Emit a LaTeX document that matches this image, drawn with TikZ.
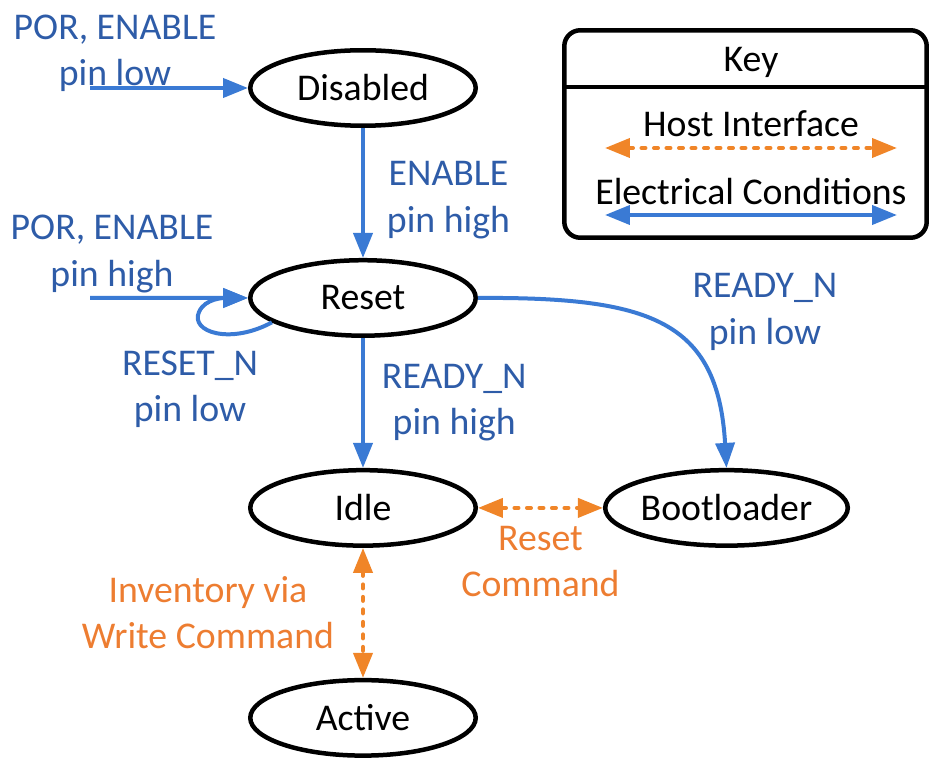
\documentclass[tikz,border=0pt]{standalone}
\usepackage{fontspec}
\setmainfont{Carlito}
\usetikzlibrary{shapes.geometric, arrows.meta, positioning}
\definecolor{condblue}{RGB}{58,122,212}
\definecolor{condtext}{RGB}{46,92,168}
\definecolor{hostorange}{RGB}{240,133,40}
\definecolor{hosttext}{RGB}{237,125,49}

\begin{document}
\begin{tikzpicture}[
  x=0.02cm, y=-0.02cm,
  node distance=2.6cm,
  state/.style={ellipse, draw, line width=0.09cm, minimum width=4.51cm, minimum height=1.51cm, inner sep=0pt, font=\fontsize{21.5}{26.4}\selectfont},
  lbl/.style={align=center, inner sep=0pt, font=\fontsize{21.5}{26.4}\selectfont},
  elec/.style={-{Triangle[length=0.5cm, width=0.38cm]}, condblue, line width=0.08cm},
  host/.style={{Triangle[length=0.5cm, width=0.38cm]}-{Triangle[length=0.5cm, width=0.38cm]}, hostorange, line width=0.08cm, dash pattern=on 0.08cm off 0.17cm, line cap=round},
  keybox/.style={rectangle, rounded corners=0.32cm, draw, line width=0.09cm, minimum width=7.25cm, minimum height=4.15cm},
]
  \useasboundingbox (0,0) rectangle (931,773);

  % states
  \node[state] (disabled) at (363,88) {Disabled};
  \node[state, below=of disabled] (reset) {Reset};
  \node[state, below=of reset] (idle) {Idle};
  \node[state, below=of idle] (active) {Active};
  \node[state, right=2.5cm of idle] (boot) {Bootloader};

  % electrical conditions
  \coordinate (porlowin) at (90,88);
  \coordinate (porhighin) at (90,298);
  \draw[elec] (porlowin) -- (disabled);
  \node[lbl, condtext] (porlow) at (115,53) {POR, ENABLE\\pin low};
  \draw[elec] (disabled) -- (reset) node[lbl, condtext, midway, right=0.44cm, yshift=-0.14cm] (enhigh) {ENABLE\\pin high};
  \draw[elec] (porhighin) -- (reset);
  \node[lbl, condtext] (porhigh) at (112,254) {POR, ENABLE\\pin high};
  \draw[elec] (reset.195) .. controls (230,345) and (190,332) .. (199,312) .. controls (205,298) and (225,298) .. (reset.west);
  \node[lbl, condtext] (rstlow) at (190,389) {RESET\_N\\pin low};
  \draw[elec] (reset) -- (idle) node[lbl, condtext, midway, right=0.34cm] (rdyhigh) {READY\_N\\pin high};
  \draw[elec] (reset.east) .. controls (650,297) and (718,320) .. (boot.north);
  \node[lbl, condtext] (rdylow) at (765,312) {READY\_N\\pin low};

  % host interface
  \draw[host] (idle) -- (boot) node[lbl, hosttext, midway, below=0.32cm] (rstcmd) {Reset\\Command};
  \draw[host] (idle) -- (active) node[lbl, hosttext, midway, left=0.54cm] (invcmd) {Inventory via\\Write Command};

  % key
  \node[keybox] (key) at (745.5,134) {};
  \draw[line width=0.09cm] (key.west |- 0,87) -- (key.east |- 0,87);
  \node[lbl] (keytitle) at (751,62) {Key};
  \node[lbl] (hostkey) at (751,124) {Host Interface};
  \coordinate (hostl) at (605,148);
  \coordinate (hostr) at (897,148);
  \draw[host] (hostl) -- (hostr);
  \node[lbl] (eleckey) at (751,192) {Electrical Conditions};
  \coordinate (elecl) at (605,215);
  \coordinate (elecr) at (897,215);
  \draw[elec, {Triangle[length=0.5cm, width=0.38cm]}-{Triangle[length=0.5cm, width=0.38cm]}] (elecl) -- (elecr);
\end{tikzpicture}
\end{document}
